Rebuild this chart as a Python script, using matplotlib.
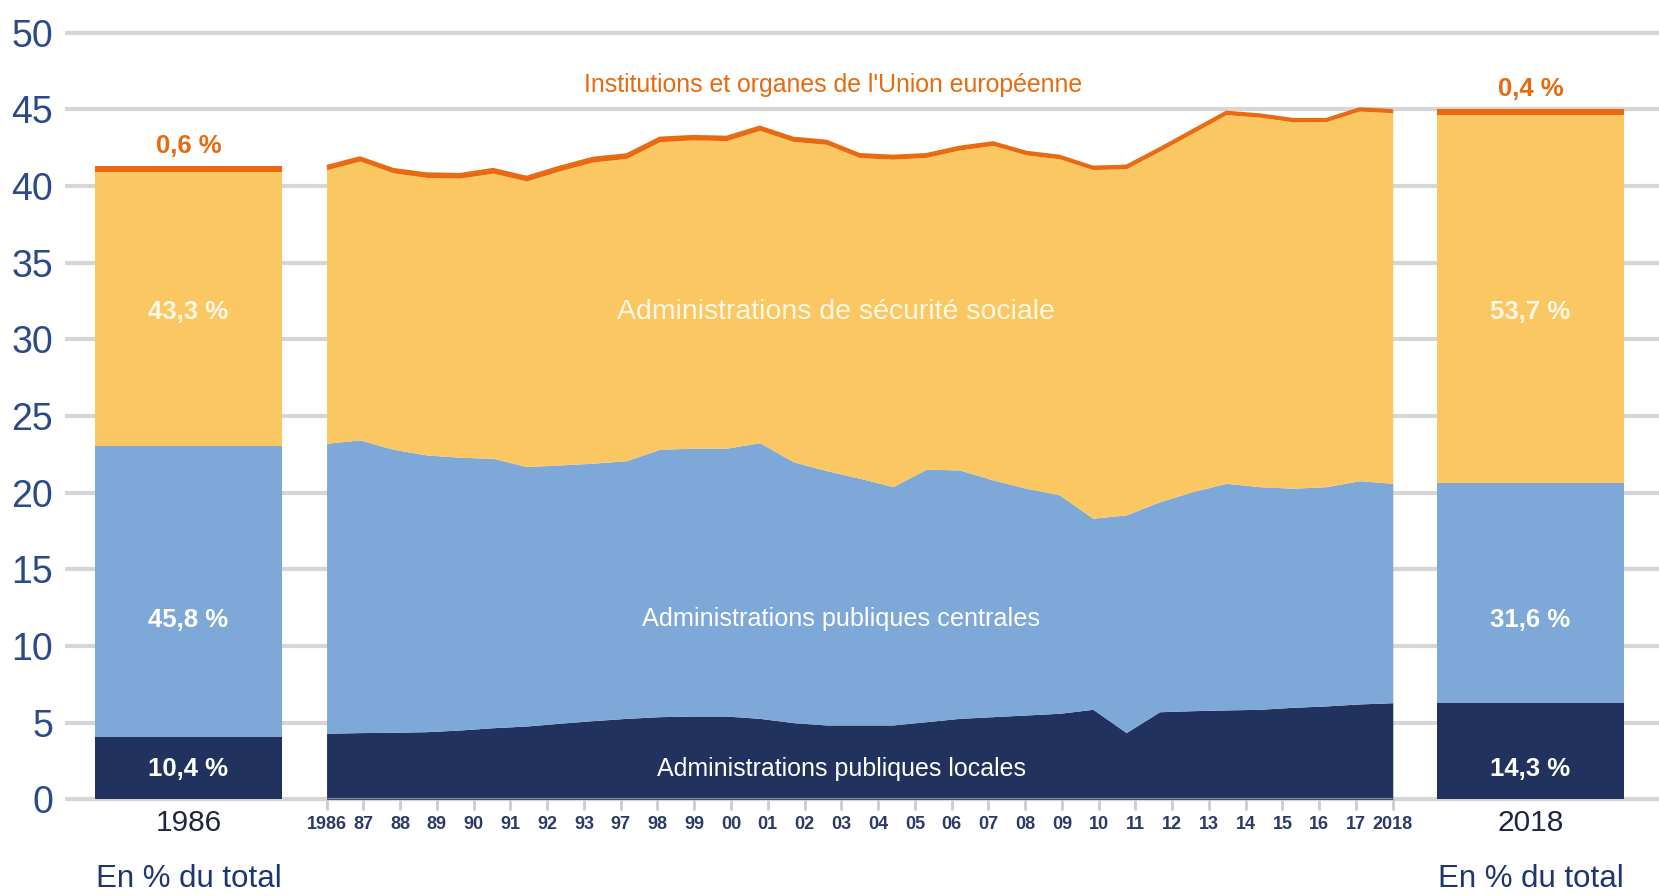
import matplotlib
matplotlib.use("Agg")
import matplotlib.pyplot as plt
import numpy as np

# ---------------- data ----------------
years = list(range(1986, 2019))
tick_labels = ["1986", "87", "88", "89", "90", "91", "92", "93", "97", "98", "99",
               "00", "01", "02", "03", "04", "05", "06", "07", "08", "09", "10",
               "11", "12", "13", "14", "15", "16", "17", "2018"]

# top boundary of each stacked layer (% of GDP)
local_top = [4.31, 4.35, 4.37, 4.41, 4.52, 4.67, 4.78, 4.96, 5.13, 5.28, 5.39,
             5.43, 5.43, 5.28, 5.00, 4.85, 4.85, 4.85, 5.06, 5.28, 5.39, 5.50,
             5.61, 5.87, 4.35, 5.71, 5.78, 5.83, 5.87, 6.00, 6.09, 6.22, 6.30]
central_top = [23.22, 23.44, 22.83, 22.46, 22.31, 22.24, 21.70, 21.81, 21.92,
               22.09, 22.83, 22.90, 22.90, 23.26, 22.02, 21.44, 20.94, 20.39,
               21.53, 21.48, 20.83, 20.29, 19.85, 18.33, 18.55, 19.41, 20.07,
               20.61, 20.39, 20.29, 20.39, 20.78, 20.61]
total_top = [41.31, 41.88, 41.12, 40.83, 40.79, 41.12, 40.61, 41.27, 41.85,
             42.07, 43.16, 43.27, 43.22, 43.88, 43.16, 42.96, 42.09, 41.98,
             42.09, 42.57, 42.86, 42.24, 41.98, 41.27, 41.33, 42.47, 43.66,
             44.85, 44.68, 44.38, 44.38, 45.07, 44.96]
eu_part = [0.25, 0.25, 0.26, 0.27, 0.27, 0.28, 0.28, 0.28, 0.28, 0.27, 0.27,
           0.26, 0.26, 0.25, 0.25, 0.24, 0.24, 0.23, 0.22, 0.22, 0.21, 0.21,
           0.21, 0.20, 0.20, 0.20, 0.20, 0.19, 0.19, 0.19, 0.18, 0.18, 0.18]

# side bars: segment sizes (local, central, social security, EU)
bar_1986 = [4.06, 18.99, 17.88, 0.37]
bar_2018 = [6.30, 14.30, 24.02, 0.38]
share_1986 = ["10,4 %", "45,8 %", "43,3 %", "0,6 %"]
share_2018 = ["14,3 %", "31,6 %", "53,7 %", "0,4 %"]

series_names = ["Administrations publiques locales",
                "Administrations publiques centrales",
                "Administrations de sécurité sociale",
                "Institutions et organes de l'Union européenne"]

# ---------------- style ----------------
C_LOCAL = "#20325d"
C_CENTRAL = "#7ea8d8"
C_SOCIAL = "#fac762"
C_EU = "#e8690e"
C_TXT = "#2c4a88"
C_GRID = "#d6d6d6"
NARROW = ["Liberation Sans Narrow", "Liberation Sans", "DejaVu Sans"]
REG = ["Liberation Sans", "DejaVu Sans"]

fig = plt.figure(figsize=(16.59, 8.96), dpi=100)
ax = fig.add_axes([67 / 1659, (896 - 799.3) / 896, 1 - 67 / 1659, (799.3 - 32.7) / 896])
ax.set_ylim(0, 50)
ax.set_xlim(-7.79, 39.99)
for s in ax.spines.values():
    s.set_visible(False)

# gridlines
for yv in range(0, 51, 5):
    ax.axhline(yv, color=C_GRID, lw=3.0, zorder=0, clip_on=False)

# ---------------- stacked area ----------------
x = np.arange(len(years))
loc = np.array(local_top)
cen = np.array(central_top)
tot = np.array(total_top)
soc = tot - np.array(eu_part)
ax.fill_between(x, 0, loc, color=C_LOCAL, lw=0, zorder=2)
ax.fill_between(x, loc, cen, color=C_CENTRAL, lw=0, zorder=2)
ax.fill_between(x, cen, soc, color=C_SOCIAL, lw=0, zorder=2)
ax.fill_between(x, soc, tot, color=C_EU, lw=0, zorder=2)
ax.plot(x, tot, color=C_EU, lw=1.4, zorder=3, solid_capstyle="butt")
ax.plot([x[0], x[-1]], [0, 0], color="#7f8694", lw=1.6, zorder=3, solid_capstyle="butt")

# ---------------- side bars ----------------
bar_w = 5.61
colors = [C_LOCAL, C_CENTRAL, C_SOCIAL, C_EU]
for xc, vals, shares in [(-4.144, bar_1986, share_1986), (36.13, bar_2018, share_2018)]:
    bottom = 0.0
    for v, c in zip(vals, colors):
        ax.bar(xc, v, width=bar_w, bottom=bottom, color=c, lw=0, zorder=2)
        bottom += v
    ax.text(xc, 1.98, shares[0], ha="center", va="center", color="white",
            fontsize=18.5, fontweight="bold", family=NARROW, zorder=5)
    ax.text(xc, 11.7, shares[1], ha="center", va="center", color="white",
            fontsize=18.5, fontweight="bold", family=NARROW, zorder=5)
    ax.text(xc, 31.8, shares[2], ha="center", va="center", color="#fff8e6",
            fontsize=18.5, fontweight="bold", family=NARROW, zorder=5)
    ax.text(xc, bottom + 1.3, shares[3], ha="center", va="center", color=C_EU,
            fontsize=18.5, fontweight="bold", family=NARROW, zorder=5)

# bar year labels and footers
for xc, yr in [(-4.144, years[0]), (36.13, years[-1])]:
    ax.text(xc, -1.55, str(yr), ha="center", va="center", color="#1d2640",
            fontsize=21.5, family=NARROW, clip_on=False)
    ax.text(xc, -5.2, "En % du total", ha="center", va="center", color="#1f3570",
            fontsize=22.5, family=NARROW, clip_on=False)

# series labels
ax.text(15.44, 1.97, series_names[0], ha="center", va="center", color="white",
        fontsize=18, family=NARROW, zorder=5)
ax.text(15.44, 11.76, series_names[1], ha="center", va="center", color="white",
        fontsize=18.2, family=NARROW, zorder=5)
ax.text(15.3, 31.8, series_names[2], ha="center", va="center", color="#fff8e6",
        fontsize=20.5, family=NARROW, zorder=5)
ax.text(15.2, 46.6, series_names[3], ha="center", va="center", color=C_EU,
        fontsize=17.9, family=NARROW, zorder=5)

# ---------------- axes ticks ----------------
ax.set_yticks(range(0, 51, 5))
ax.set_yticklabels([str(v) for v in range(0, 51, 5)], family=REG, fontsize=27, color=C_TXT)
ax.tick_params(axis="y", length=0, pad=10)

ax.set_xticks(np.linspace(x[0], x[-1], len(tick_labels)))
ax.set_xticklabels(tick_labels, family=NARROW, fontsize=13, fontweight="bold", color="#2b3a67")
ax.tick_params(axis="x", length=8, width=2, color="#cccccc", pad=4)

fig.savefig("out.png", dpi=100)
